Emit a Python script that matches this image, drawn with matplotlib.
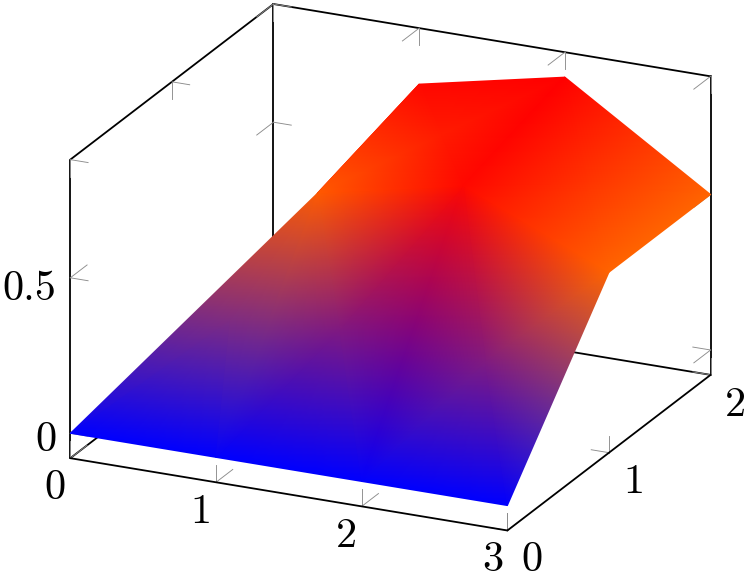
import numpy as np
import matplotlib
matplotlib.use("Agg")
import matplotlib.pyplot as plt
from matplotlib.colors import LinearSegmentedColormap

plt.rcParams["font.family"] = ["cmr10", "DejaVu Serif"]

# ================= DATA =================
# mesh rows, the first column of the upper rows collapses onto the second one
x_row0 = [0, 1, 2, 3]
y_row0 = [0, 0, 0, 0]
z_row0 = [0, 0, 0, 0]

x_row1 = [1, 1, 2, 3]
y_row1 = [1, 1, 1, 1]
z_row1 = [0.6, 0.6, 0.7, 0.5]

x_row2 = [1, 1, 2, 3]
y_row2 = [2, 2, 2, 2]
z_row2 = [0.7, 0.7, 0.8, 0.5]

x_ticks = [0, 1, 2, 3]
y_ticks = [0, 1, 2]
z_ticks = [0, 0.5]
z_tick_labels = ["0", "0.5"]

# colour at each height
color_z = [0, 0.5, 0.6, 0.7, 0.8]
color_rgb = ["#0000ff", "#ff6400", "#ff5a00", "#ff0800", "#ff0000"]
# ========================================

X_MIN, X_MAX = 0, 3
Y_MIN, Y_MAX = 0, 2
Z_MIN, Z_MAX = -0.08, 0.88

# orthographic view, pixel position of the origin and of one unit on each axis
ORIGIN = np.array([70.3, 433.3])
UX = np.array([145.7, 24.1])
UY = np.array([101.6, -77.8])
UZ = np.array([0.0, -311.0])

TICK_X = 0.122
TICK_Y = 0.165
TICK_Z = 0.055

AXIS_LW = 1.3
TICK_LW = 0.65
TICK_COLOR = "#8c8c8c"
FONT = 30.5


def project(x, y, z):
    x, y, z = np.asarray(x, float), np.asarray(y, float), np.asarray(z, float)
    px = ORIGIN[0] + x * UX[0] + y * UY[0] + z * UZ[0]
    py = ORIGIN[1] + x * UX[1] + y * UY[1] + z * UZ[1]
    return px, py


def edge(ax, a, b, z=1):
    px, py = project(*zip(a, b))
    ax.plot(px, py, color="black", lw=AXIS_LW, zorder=z, solid_capstyle="round")


def tick(ax, p, dirs):
    # two short strokes per tick, each one along an axis direction
    for d in dirs:
        q = (p[0] + d[0], p[1] + d[1], p[2] + d[2])
        px, py = project(*zip(p, q))
        ax.plot(px, py, color=TICK_COLOR, lw=TICK_LW, zorder=1.5)


fig = plt.figure(figsize=(7.48, 5.8), dpi=100)
ax = fig.add_axes([0, 0, 1, 1])

# surface, colours are blended between the vertices
cmap = LinearSegmentedColormap.from_list(
    "surf_hot", [(v / max(color_z), c) for v, c in zip(color_z, color_rgb)]
)
X = np.array([x_row0, x_row1, x_row2], dtype=float)
Y = np.array([y_row0, y_row1, y_row2], dtype=float)
Z = np.array([z_row0, z_row1, z_row2], dtype=float)
PX, PY = project(X, Y, Z)
rgb = cmap(Z / max(color_z))[:, :, :3]
ax.pcolormesh(PX, PY, rgb, shading="gouraud", zorder=2)

# back of the box
edge(ax, (X_MIN, Y_MIN, Z_MIN), (X_MIN, Y_MAX, Z_MIN))
edge(ax, (X_MIN, Y_MAX, Z_MIN), (X_MAX, Y_MAX, Z_MIN))
edge(ax, (X_MIN, Y_MAX, Z_MIN), (X_MIN, Y_MAX, Z_MAX))
edge(ax, (X_MIN, Y_MIN, Z_MAX), (X_MIN, Y_MAX, Z_MAX))
edge(ax, (X_MIN, Y_MAX, Z_MAX), (X_MAX, Y_MAX, Z_MAX))
edge(ax, (X_MIN, Y_MIN, Z_MIN), (X_MIN, Y_MIN, Z_MAX))
edge(ax, (X_MAX, Y_MAX, Z_MIN), (X_MAX, Y_MAX, Z_MAX))

# ticks on both ends of each axis
for t in x_ticks:
    tick(ax, (t, Y_MIN, Z_MIN), [(0, 0, TICK_Z), (0, TICK_Y, 0)])
    tick(ax, (t, Y_MAX, Z_MAX), [(0, 0, -TICK_Z), (0, -TICK_Y, 0)])
for t in y_ticks:
    tick(ax, (X_MAX, t, Z_MIN), [(0, 0, TICK_Z), (-TICK_X, 0, 0)])
    tick(ax, (X_MIN, t, Z_MAX), [(0, 0, -TICK_Z), (TICK_X, 0, 0)])
for t in z_ticks:
    tick(ax, (X_MIN, Y_MIN, t), [(TICK_X, 0, 0), (0, TICK_Y, 0)])
    tick(ax, (X_MIN, Y_MAX, t), [(TICK_X, 0, 0), (0, -TICK_Y, 0)])
    tick(ax, (X_MAX, Y_MAX, t), [(-TICK_X, 0, 0), (0, -TICK_Y, 0)])

# front of the box goes over the surface
edge(ax, (X_MIN, Y_MIN, Z_MIN), (X_MAX, Y_MIN, Z_MIN), z=3)
edge(ax, (X_MAX, Y_MIN, Z_MIN), (X_MAX, Y_MAX, Z_MIN), z=3)

# tick labels
for t in x_ticks:
    px, py = project(t, Y_MIN, Z_MIN)
    ax.text(px - 15, py + 30, str(t), fontsize=FONT, ha="center", va="center")
for t in y_ticks:
    px, py = project(X_MAX, t, Z_MIN)
    ax.text(px + 25, py + 30, str(t), fontsize=FONT, ha="center", va="center")
for t, lab, dy in zip(z_ticks, z_tick_labels, [7, 11]):
    px, py = project(X_MIN, Y_MIN, t)
    ax.text(px - 14, py + dy, lab, fontsize=FONT, ha="right", va="center")

ax.set_xlim(0, 748)
ax.set_ylim(580, 0)
ax.axis("off")

fig.savefig("out.png", dpi=100)
